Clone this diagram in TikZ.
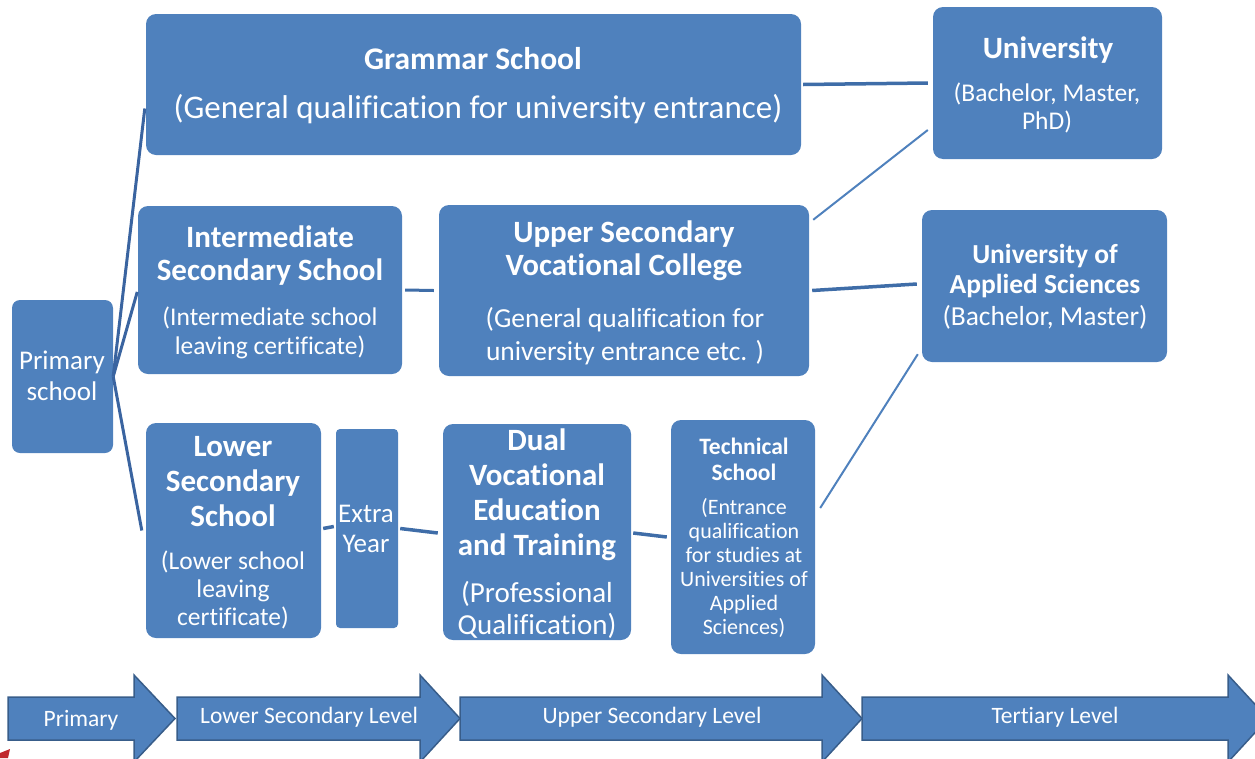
\documentclass[tikz,border=0pt]{standalone}
\usepackage{fontspec}
\setmainfont{Carlito}[Ligatures=NoCommon]
\usetikzlibrary{calc}
\definecolor{boxblue}{HTML}{4F81BD}
\definecolor{linkblue}{HTML}{3F6DA8}
\definecolor{fanblue}{HTML}{3A64A0}
\definecolor{arrowedge}{HTML}{385D8A}
\definecolor{artred}{HTML}{C0282D}
\newcommand\fsz[2]{\fontsize{#1}{#2}\selectfont}
\begin{document}
\begin{tikzpicture}[x=1pt,y=-1pt,
  box/.style={fill=boxblue, draw=none, rounded corners=10pt, inner sep=0pt},
  txt/.style={text=white, align=center, inner sep=0pt},
  link/.style={draw=linkblue, line width=3.5pt},
  thinlink/.style={draw=boxblue, line width=2pt},
  fan/.style={draw=fanblue, line width=3pt},
  level/.style={fill=boxblue, draw=arrowedge, line width=1.5pt, line join=miter},
]
\useasboundingbox (0,0) rectangle (1255,758);
\clip (0,0) rectangle (1255,758);

% boxes
\node[box, minimum width=655pt, minimum height=141pt] (gram) at (473.5,84.5) {};
\node[box, minimum width=229pt, minimum height=152pt] (univ) at (1047.5,83) {};
\node[box, minimum width=264pt, minimum height=168pt] (inter) at (270,290) {};
\node[box, minimum width=370pt, minimum height=171pt] (upper) at (624,290.5) {};
\node[box, minimum width=245pt, minimum height=152pt] (uas) at (1044.5,286) {};
\node[box, minimum width=101pt, minimum height=153pt, rounded corners=8pt] (prim) at (62.5,376.5) {};
\node[box, minimum width=175pt, minimum height=215pt] (lower) at (233.5,530.5) {};
\node[box, minimum width=62pt, minimum height=199pt, rounded corners=4pt] (extra) at (367,528.5) {};
\node[box, minimum width=188pt, minimum height=216pt] (dual) at (537,532) {};
\node[box, minimum width=144pt, minimum height=234pt] (tech) at (743,537) {};

% texts
\node[txt, font=\fsz{31.5}{35}\bfseries] (gramT) at (473,59) {Grammar School};
\node[txt, font=\fsz{33}{35}] (gramS) at (478,109) {(General qualification for university entrance)};
\node[txt, font=\fsz{31}{33}\bfseries] (univT) at (1048,50) {University};
\node[txt, font=\fsz{25.5}{28}] (univS) at (1047,108) {(Bachelor, Master,\\PhD)};
\node[txt, font=\fsz{31}{33}\bfseries] (interT) at (270,255.5) {Intermediate\\Secondary School};
\node[txt, font=\fsz{25.5}{29}] (interS) at (270,332.5) {(Intermediate school\\leaving certificate)};
\node[txt, font=\fsz{31}{33}\bfseries] (upperT) at (624,250.5) {Upper Secondary\\Vocational College};
\node[txt, font=\fsz{27.5}{33}] (upperS) at (625,336) {(General qualification for\\university entrance etc. )};
\node[txt, font=\fsz{27.5}{30}\bfseries] (uasT) at (1045,271) {University of\\Applied Sciences};
\node[txt, font=\fsz{27.5}{28}] (uasS) at (1045,317) {(Bachelor, Master)};
\node[txt, font=\fsz{27}{31}] (primT) at (62,376) {Primary\\school};
\node[txt, font=\fsz{31}{35}\bfseries] (lowerT) at (233,482) {Lower\\Secondary\\School};
\node[txt, font=\fsz{25.5}{28}] (lowerS) at (233,590) {(Lower school\\leaving\\certificate)};
\node[txt, font=\fsz{27}{30}] (extraT) at (366,529) {Extra\\Year};
\node[txt, font=\fsz{31}{35}\bfseries] (dualT) at (537,494.5) {Dual\\Vocational\\Education\\and Training};
\node[txt, font=\fsz{29}{32}] (dualS) at (537,610) {(Professional\\Qualification)};
\node[txt, font=\fsz{23.5}{26}\bfseries] (techT) at (744,459) {Technical\\School};
\node[txt, font=\fsz{22}{24}] (techS) at (744,568) {(Entrance\\qualification\\for studies at\\Universities of\\Applied\\Sciences)};

% connectors
\draw[fan] (prim.east) -- ($(gram.west)+(-1,24)$);
\draw[fan, shorten >=2pt] (prim.east) -- (inter.west);
\draw[fan] (prim.east) -- ($(lower.west)+(-4,0)$);
\draw[link] ($(gram.east)+(2,0)$) -- ($(univ.west)+(-5,0)$);
\draw[link, line width=3pt] ($(inter.east)+(3,0)$) -- ($(upper.west)+(-5,0)$);
\draw[link] ($(upper.east)+(3,0)$) -- ($(uas.west)+(-5,-2)$);
\draw[thinlink] ($(upper.north east)+(4,15)$) -- ($(univ.west)+(-5,47)$);
\draw[thinlink] ($(tech.east)+(5,-29)$) -- ($(uas.south west)+(-4,-8)$);
\draw[link] ($(lower.east)+(2,-2)$) -- ($(extra.west)+(-2,-2)$);
\draw[link] ($(extra.east)+(2,0)$) -- ($(dual.west)+(-5,1)$);
\draw[link] ($(dual.east)+(2,1)$) -- ($(tech.west)+(-4,0)$);

% level arrows
\draw[level] (8,697) -- (134,697) -- (134,675) -- (175,718.5) -- (134,762) -- (134,740) -- (8,740) -- cycle;
\draw[level] (177,697) -- (420,697) -- (420,675) -- (460,718.5) -- (420,762) -- (420,740) -- (177,740) -- cycle;
\draw[level] (460,697) -- (822,697) -- (822,675) -- (862,718.5) -- (822,762) -- (822,740) -- (460,740) -- cycle;
\draw[level] (862,697) -- (1228,697) -- (1228,675) -- (1268,718.5) -- (1228,762) -- (1228,740) -- (862,740) -- cycle;
\node[txt, font=\fsz{23.5}{24}] (lvP) at (81,720) {Primary};
\node[txt, font=\fsz{23.5}{24}] (lvL) at (309,717.5) {Lower Secondary Level};
\node[txt, font=\fsz{23.5}{24}] (lvU) at (652,717.5) {Upper Secondary Level};
\node[txt, font=\fsz{23.5}{24}] (lvT) at (1055,717.5) {Tertiary Level};

% corner mark
\fill[artred] (0,758) -- (0,753) -- (10,749) -- (8,758) -- cycle;
\end{tikzpicture}
\end{document}
